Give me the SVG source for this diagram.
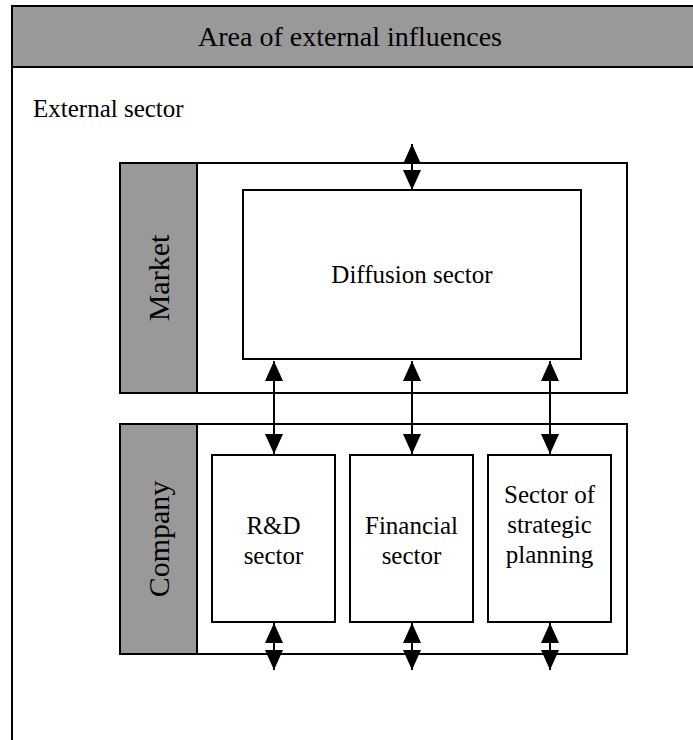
<svg xmlns="http://www.w3.org/2000/svg" width="693" height="740" viewBox="0 0 693 740">
  <style>
    .box { fill: #ffffff; stroke: #000000; stroke-width: 2; }
    .gray { fill: #999999; stroke: #000000; stroke-width: 2; }
    .txt { font-family: "Liberation Serif", "Times New Roman", serif; font-size: 25px; fill: #000000; text-anchor: middle; }
    .conn { stroke: #000000; stroke-width: 2; fill: none; marker-start: url(#ah); marker-end: url(#ah); }
  </style>
  <defs>
    <marker id="ah" viewBox="0 0 20 18" refX="20" refY="9" markerWidth="20" markerHeight="18" markerUnits="userSpaceOnUse" orient="auto-start-reverse">
      <path d="M0,0 L20,9 L0,18 z" fill="#000000"/>
    </marker>
  </defs>
  <rect width="693" height="740" fill="#ffffff"/>

  <g id="external">
    <rect class="box" x="12" y="6" width="700" height="760"/>
    <rect class="gray" x="12" y="6" width="700" height="61"/>
    <text class="txt" x="350" y="46" style="font-size:28px">Area of external influences</text>
    <text class="txt" x="33" y="117" style="text-anchor:start">External sector</text>
  </g>

  <g id="market">
    <rect class="box" x="120" y="163" width="507" height="230"/>
    <rect class="gray" x="120" y="163" width="77" height="230"/>
    <text class="txt" transform="translate(169,278) rotate(-90)" style="font-size:30px">Market</text>
  </g>

  <g id="diffusion">
    <rect class="box" x="243" y="190" width="338" height="169"/>
    <text class="txt" x="412" y="283">Diffusion sector</text>
  </g>

  <g id="company">
    <rect class="box" x="120" y="424" width="507" height="230"/>
    <rect class="gray" x="120" y="424" width="77" height="230"/>
    <text class="txt" transform="translate(169,539) rotate(-90)" style="font-size:30px">Company</text>
  </g>

  <g id="rd">
    <rect class="box" x="212" y="455" width="123" height="167"/>
    <text class="txt" x="273.5" y="534">R&amp;D</text>
    <text class="txt" x="273.5" y="564">sector</text>
  </g>

  <g id="financial">
    <rect class="box" x="350" y="455" width="123" height="167"/>
    <text class="txt" x="411.5" y="534">Financial</text>
    <text class="txt" x="411.5" y="564">sector</text>
  </g>

  <g id="strategic">
    <rect class="box" x="488" y="455" width="123" height="167"/>
    <text class="txt" x="549.5" y="503">Sector of</text>
    <text class="txt" x="549.5" y="533">strategic</text>
    <text class="txt" x="549.5" y="563">planning</text>
  </g>

  <g id="connectors">
    <line class="conn" x1="412" y1="144" x2="412" y2="190"/>
    <line class="conn" x1="274" y1="361" x2="274" y2="454"/>
    <line class="conn" x1="412" y1="361" x2="412" y2="454"/>
    <line class="conn" x1="550" y1="361" x2="550" y2="454"/>
    <line class="conn" x1="274" y1="623" x2="274" y2="670"/>
    <line class="conn" x1="412" y1="623" x2="412" y2="670"/>
    <line class="conn" x1="550" y1="623" x2="550" y2="670"/>
  </g>
</svg>
